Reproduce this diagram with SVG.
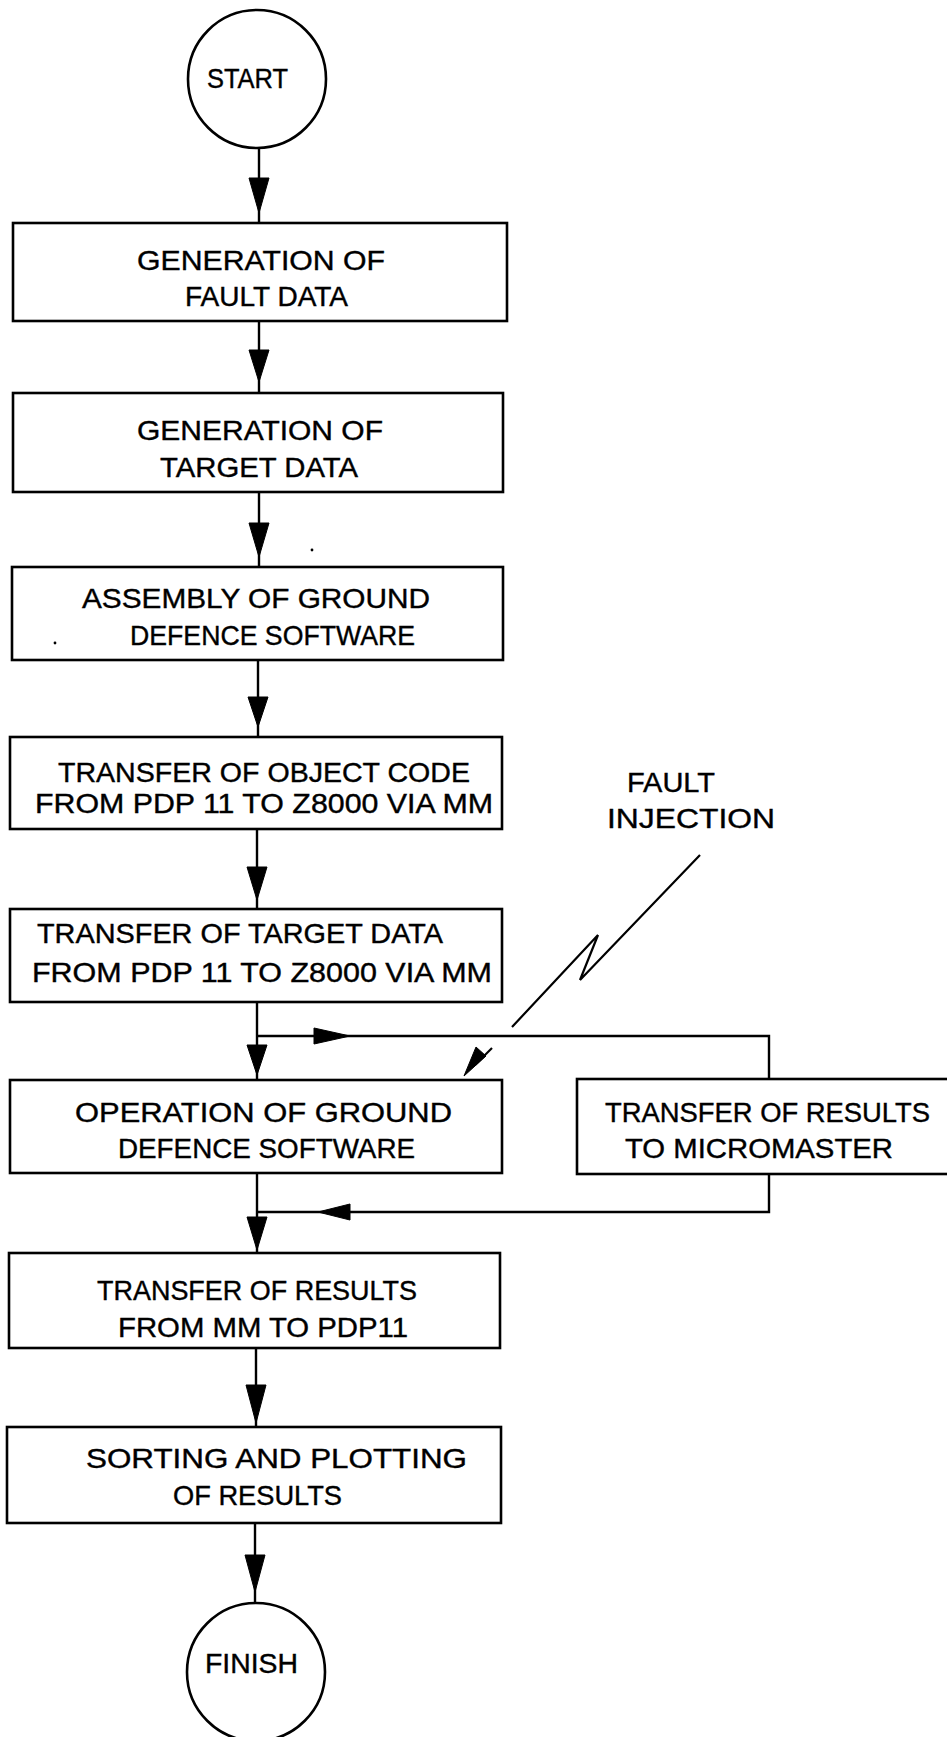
<svg xmlns="http://www.w3.org/2000/svg" width="947" height="1737" viewBox="0 0 947 1737">
  <style>
    .box { fill: #fff; stroke: #000; stroke-width: 2.6; }
    .term { fill: #fff; stroke: #000; stroke-width: 2.6; }
    .wire { fill: none; stroke: #000; stroke-width: 2.4; }
    .bolt { fill: none; stroke: #000; stroke-width: 2.2; stroke-linejoin: miter; }
    .head { fill: #000; stroke: #000; stroke-width: 1; stroke-linejoin: miter; }
    .lbl { font-family: "Liberation Sans", Arial, sans-serif; font-size: 28.5px; fill: #000; stroke: #000; stroke-width: 0.4; }
    .speck { fill: #000; }
  </style>
  <rect width="947" height="1737" fill="#fff"/>

  <!-- flow lines and arrowheads -->
  <g id="connectors">
    <!-- main vertical run -->
    <line class="wire" x1="259" y1="148" x2="259" y2="223"/>
    <polygon class="head" points="249,178 269,178 259,213"/>
    <line class="wire" x1="259" y1="321" x2="259" y2="393"/>
    <polygon class="head" points="249,350 269,350 259,382"/>
    <line class="wire" x1="259" y1="492" x2="259" y2="567"/>
    <polygon class="head" points="249,523 269,523 259,557"/>
    <line class="wire" x1="258" y1="660" x2="258" y2="737"/>
    <polygon class="head" points="248,697 268,697 258,727"/>
    <line class="wire" x1="257" y1="829" x2="257" y2="909"/>
    <polygon class="head" points="247,867 267,867 257,900"/>
    <line class="wire" x1="257" y1="1002" x2="257" y2="1080"/>
    <polygon class="head" points="247,1045 267,1045 257,1075"/>
    <line class="wire" x1="257" y1="1173" x2="257" y2="1253"/>
    <polygon class="head" points="247,1217 267,1217 257,1250"/>
    <line class="wire" x1="256" y1="1348" x2="256" y2="1427"/>
    <polygon class="head" points="246,1385 266,1385 256,1423"/>
    <line class="wire" x1="255" y1="1523" x2="255" y2="1603"/>
    <polygon class="head" points="245,1555 265,1555 255,1592"/>

    <!-- loop out to the results transfer box and back -->
    <polyline class="wire" points="257,1036 769,1036 769,1079"/>
    <polygon class="head" points="314,1028 350,1036 314,1044"/>
    <polyline class="wire" points="769,1174 769,1212 257,1212"/>
    <polygon class="head" points="350,1204 318,1212 350,1220"/>

    <!-- fault injection lightning stroke -->
    <polyline class="bolt" points="700,855 580,980 598,935 512,1027"/>
    <line class="bolt" x1="492" y1="1048" x2="475" y2="1065"/>
    <polygon class="head" points="486,1056 476,1047 464,1076"/>
  </g>

  <g id="start">
    <circle class="term" cx="257" cy="79" r="69"/>
    <text class="lbl" x="207" y="88" textLength="81" lengthAdjust="spacingAndGlyphs">START</text>
  </g>

  <g id="fault-data">
    <rect class="box" x="13" y="223" width="494" height="98"/>
    <text class="lbl" x="137" y="270" textLength="248" lengthAdjust="spacingAndGlyphs">GENERATION OF</text>
    <text class="lbl" x="185" y="306" textLength="163" lengthAdjust="spacingAndGlyphs">FAULT DATA</text>
  </g>

  <g id="target-data">
    <rect class="box" x="13" y="393" width="490" height="99"/>
    <text class="lbl" x="137" y="440" textLength="246" lengthAdjust="spacingAndGlyphs">GENERATION OF</text>
    <text class="lbl" x="160" y="477" textLength="198" lengthAdjust="spacingAndGlyphs">TARGET DATA</text>
  </g>

  <g id="assembly">
    <rect class="box" x="12" y="567" width="491" height="93"/>
    <text class="lbl" x="82" y="608" textLength="348" lengthAdjust="spacingAndGlyphs">ASSEMBLY OF GROUND</text>
    <text class="lbl" x="130" y="645" textLength="285" lengthAdjust="spacingAndGlyphs">DEFENCE SOFTWARE</text>
  </g>

  <g id="object-code">
    <rect class="box" x="10" y="737" width="492" height="92"/>
    <text class="lbl" x="58" y="782" textLength="412" lengthAdjust="spacingAndGlyphs">TRANSFER OF OBJECT CODE</text>
    <text class="lbl" x="35" y="813" textLength="458" lengthAdjust="spacingAndGlyphs">FROM PDP 11 TO Z8000 VIA MM</text>
  </g>

  <g id="target-transfer">
    <rect class="box" x="10" y="909" width="492" height="93"/>
    <text class="lbl" x="37" y="943" textLength="406" lengthAdjust="spacingAndGlyphs">TRANSFER OF TARGET DATA</text>
    <text class="lbl" x="32" y="982" textLength="460" lengthAdjust="spacingAndGlyphs">FROM PDP 11 TO Z8000 VIA MM</text>
  </g>

  <g id="operation">
    <rect class="box" x="10" y="1080" width="492" height="93"/>
    <text class="lbl" x="75" y="1122" textLength="377" lengthAdjust="spacingAndGlyphs">OPERATION OF GROUND</text>
    <text class="lbl" x="118" y="1158" textLength="297" lengthAdjust="spacingAndGlyphs">DEFENCE SOFTWARE</text>
  </g>

  <g id="to-micromaster">
    <rect class="box" x="577" y="1079" width="390" height="95"/>
    <text class="lbl" x="605" y="1122" textLength="325" lengthAdjust="spacingAndGlyphs">TRANSFER OF RESULTS</text>
    <text class="lbl" x="625" y="1158" textLength="268" lengthAdjust="spacingAndGlyphs">TO MICROMASTER</text>
  </g>

  <g id="results-transfer">
    <rect class="box" x="9" y="1253" width="491" height="95"/>
    <text class="lbl" x="97" y="1300" textLength="320" lengthAdjust="spacingAndGlyphs">TRANSFER OF RESULTS</text>
    <text class="lbl" x="118" y="1337" textLength="290" lengthAdjust="spacingAndGlyphs">FROM MM TO PDP11</text>
  </g>

  <g id="sorting">
    <rect class="box" x="7" y="1427" width="494" height="96"/>
    <text class="lbl" x="86" y="1468" textLength="381" lengthAdjust="spacingAndGlyphs">SORTING AND PLOTTING</text>
    <text class="lbl" x="173" y="1505" textLength="169" lengthAdjust="spacingAndGlyphs">OF RESULTS</text>
  </g>

  <g id="finish">
    <circle class="term" cx="256" cy="1672" r="69"/>
    <text class="lbl" x="205" y="1673" textLength="93" lengthAdjust="spacingAndGlyphs">FINISH</text>
  </g>

  <g id="fault-injection">
    <text class="lbl" x="627" y="792" textLength="88" lengthAdjust="spacingAndGlyphs">FAULT</text>
    <text class="lbl" x="607" y="828" textLength="168" lengthAdjust="spacingAndGlyphs">INJECTION</text>
  </g>

  <!-- small specks on the sheet -->
  <circle class="speck" cx="312" cy="550" r="1.4"/>
  <circle class="speck" cx="55" cy="643" r="1.4"/>
</svg>
